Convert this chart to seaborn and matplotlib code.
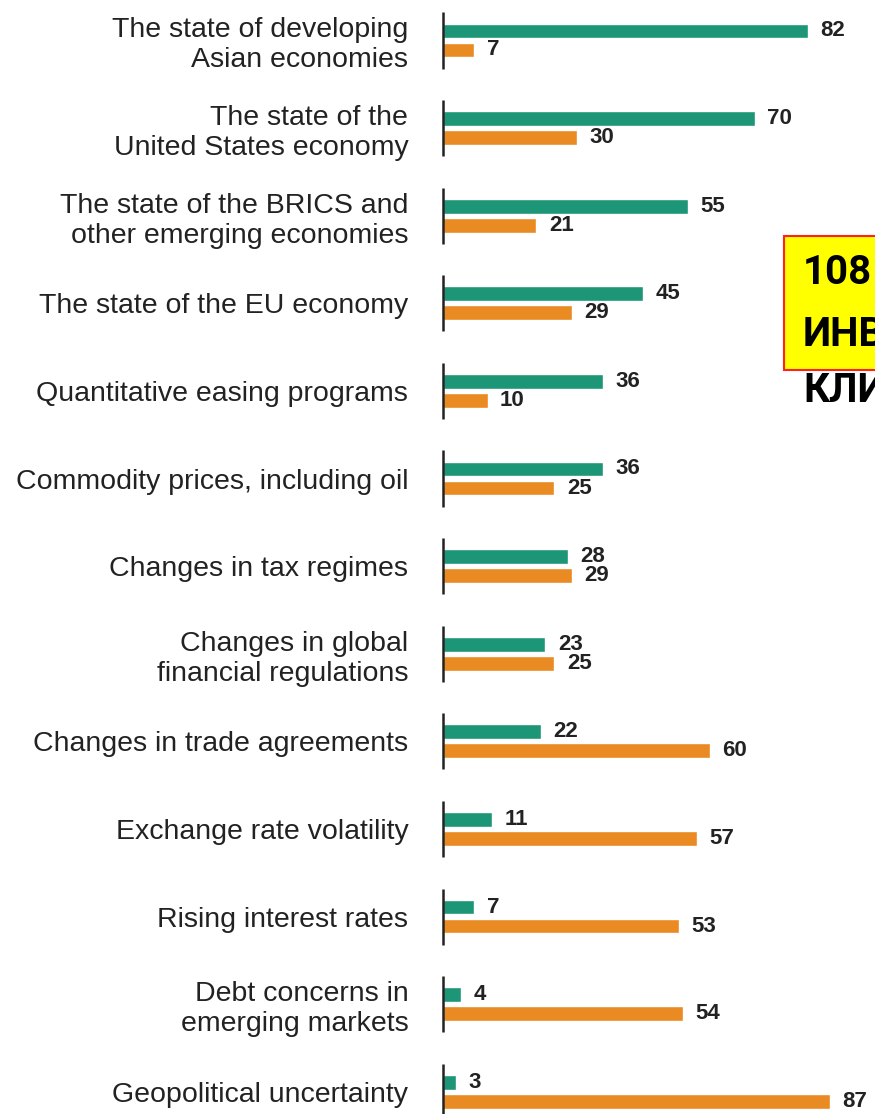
import matplotlib
matplotlib.use("Agg")
import matplotlib.pyplot as plt
import pandas as pd
import seaborn as sns
from matplotlib.patches import Rectangle

# Factors and the share of respondents naming each one
factors = [
    "The state of developing\nAsian economies",
    "The state of the\nUnited States economy",
    "The state of the BRICS and\nother emerging economies",
    "The state of the EU economy",
    "Quantitative easing programs",
    "Commodity prices, including oil",
    "Changes in tax regimes",
    "Changes in global\nfinancial regulations",
    "Changes in trade agreements",
    "Exchange rate volatility",
    "Rising interest rates",
    "Debt concerns in\nemerging markets",
    "Geopolitical uncertainty",
]
positive = [82, 70, 55, 45, 36, 36, 28, 23, 22, 11, 7, 4, 3]
negative = [7, 30, 21, 29, 10, 25, 29, 25, 60, 57, 53, 54, 87]
series_names = ["Positive impact", "Negative impact"]

# Overlay caption
caption_lines = ["108", "ИНВЕСТИЦИОННЫЙ", "КЛИМАТ"]

GREEN = "#1c9677"
ORANGE = "#ea8a22"
TEXT = "#222222"

df = pd.DataFrame({
    "factor": factors * 2,
    "share": positive + negative,
    "impact": [series_names[0]] * len(factors) + [series_names[1]] * len(factors),
})

sns.set_style("white")
plt.rcParams["font.family"] = ["Liberation Sans", "DejaVu Sans"]

W, H = 875, 1114
fig = plt.figure(figsize=(W / 100, H / 100), dpi=100)
x0 = 443 / W
ax = fig.add_axes([x0, 0, 1 - x0, 1])

sns.barplot(
    data=df, y="factor", x="share", hue="impact", order=factors,
    hue_order=series_names, orient="h", palette=[GREEN, ORANGE],
    width=0.434, gap=0.22, legend=False, ax=ax, saturation=1,
)

for cont in ax.containers:
    ax.bar_label(cont, padding=9, fontsize=16, fontweight="bold", color=TEXT)

idx = list(range(len(factors)))
ax.vlines([0] * len(idx), [i - 0.32 for i in idx], [i + 0.32 for i in idx],
          color=TEXT, lw=1.8, clip_on=False)

ax.set_xlim(0, (W - 443) / 4.45)
ax.set_ylim(12.254, -0.462)
for s in ax.spines.values():
    s.set_visible(False)
ax.set_xticks([])
ax.set_xlabel("")
ax.set_ylabel("")
ax.tick_params(axis="y", length=0, pad=25, labelsize=20.5, labelcolor=TEXT)
for t in ax.get_yticklabels():
    t.set_linespacing(1.2)

# Highlighted caption box
fig.patches.append(Rectangle((784 / W, 1 - 370 / H), 120 / W, 134 / H,
                             transform=fig.transFigure, facecolor="#ffff00",
                             edgecolor="#ff2020", lw=1.5, zorder=5))
for k, line in enumerate(caption_lines):
    fig.text(803 / W, 1 - (273 + 59 * k) / H, line, fontsize=29,
             fontweight="bold", color="black", va="center", ha="left",
             family=["Roboto", "DejaVu Sans"], zorder=6)

fig.savefig("out.png", dpi=100, facecolor="white")
